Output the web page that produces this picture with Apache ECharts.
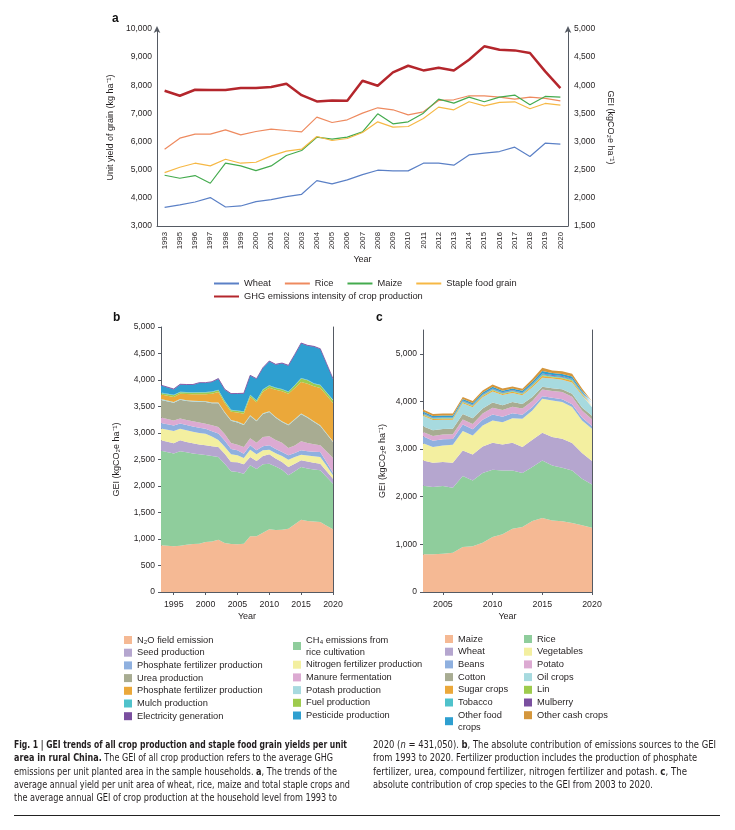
<!DOCTYPE html>
<html><head><meta charset="utf-8">
<script src="https://cdn.jsdelivr.net/npm/echarts@6/dist/echarts.min.js"></script>
<style>
html,body{margin:0;padding:0;background:#fff;}
#chart{position:absolute;left:0;top:0;width:735px;height:830px;}
.cap{position:absolute;white-space:nowrap;font-family:'Liberation Sans Narrow','DejaVu Sans Condensed','Liberation Sans',sans-serif;font-size:10.5px;line-height:12px;color:#231f20;transform-origin:0 50%;}
.cap b{font-weight:bold;}
#rule{position:absolute;left:14px;top:815px;width:706px;height:1px;background:#222;}
</style></head>
<body>
<div id="chart"></div>
<div id="caption"></div>
<div id="rule"></div>
<script>
// ---------- Panel a ----------
const yearsA = ['1993','1995','1996','1997','1998','1999','2000','2001','2002','2003','2004','2005','2006','2007','2008','2009','2010','2011','2012','2013','2014','2015','2016','2017','2018','2019','2020'];
const wheatYield = [3665,3748,3854,4009,3676,3712,3866,3937,4044,4127,4614,4495,4637,4827,4982,4958,4958,5231,5231,5160,5527,5587,5646,5800,5468,5943,5907];
const riceYield = [5729,6121,6263,6263,6417,6239,6358,6441,6393,6346,6868,6678,6773,7010,7200,7129,6951,7058,7461,7485,7627,7627,7580,7509,7580,7532,7449];
const maizeYield = [4804,4697,4792,4519,5231,5136,4970,5136,5504,5682,6156,6085,6156,6346,6987,6631,6702,7010,7509,7366,7580,7414,7580,7651,7307,7604,7580];
const stapleYield = [4898,5088,5231,5136,5373,5231,5266,5492,5658,5729,6180,6038,6109,6322,6702,6512,6536,6820,7224,7129,7414,7271,7390,7414,7165,7354,7295];
const ghgIntensity = [3903,3814,3920,3915,3915,3950,3950,3968,4027,3825,3713,3730,3725,4081,3992,4229,4347,4264,4312,4264,4454,4692,4632,4620,4573,4247,3950];

// ---------- Panel b (data years 1993-2020, no 1994 survey) ----------
const axisYearsB = ['1993','1994','1995','1996','1997','1998','1999','2000','2001','2002','2003','2004','2005','2006','2007','2008','2009','2010','2011','2012','2013','2014','2015','2016','2017','2018','2019','2020'];
const yearsB = ['1993','1995','1996','1997','1998','1999','2000','2001','2002','2003','2004','2005','2006','2007','2008','2009','2010','2011','2012','2013','2014','2015','2016','2017','2018','2019','2020'];
const bN2O = [880,862,875,890,905,910,943,955,987,925,905,900,912,1050,1050,1120,1182,1170,1175,1195,1280,1365,1340,1330,1320,1250,1182];
const bCH4 = [1785,1753,1782,1745,1710,1690,1642,1610,1560,1496,1375,1364,1321,1340,1271,1289,1239,1200,1133,1006,1000,993,990,980,976,920,862];
const bSeed = [197,190,205,195,190,185,182,185,189,189,173,183,176,157,151,157,176,150,145,157,140,126,130,130,125,110,94];
const bNitrogen = [223,235,218,220,220,215,220,185,134,130,147,133,119,139,125,107,89,100,113,139,125,107,115,120,126,100,63];
const bPhosphate = [105,100,100,100,100,100,91,100,120,120,100,93,82,81,76,75,81,80,76,82,80,82,80,88,95,70,51];
const bManure = [102,95,95,95,95,100,98,110,123,120,110,107,126,133,145,177,170,170,176,140,140,170,155,142,125,200,276];
const bUrea = [333,335,353,360,375,390,409,415,447,400,420,420,414,420,402,435,459,419,389,426,485,509,479,417,363,330,302];
const bPotash = [15,15,15,15,15,15,15,15,15,15,15,15,15,15,15,15,15,15,15,15,15,15,15,15,15,15,15];
const bPhosphate2 = [85,95,99,115,120,125,130,165,200,171,155,170,200,345,345,405,444,511,568,580,585,595,626,658,705,715,721];
const bFuel = [27,32,28,30,30,32,35,35,30,34,28,30,35,31,30,35,35,35,30,34,45,68,64,51,49,50,50];
const bMulch = [10,10,10,10,10,10,10,10,10,10,10,10,10,10,10,10,10,10,10,10,10,10,10,10,10,10,10];
const bPesticide = [133,100,132,132,137,170,167,175,204,207,297,312,332,359,397,400,450,428,482,485,570,650,642,686,674,530,391];
const bElectricity = [8,8,8,8,8,8,8,8,8,8,8,8,8,8,8,8,8,8,8,8,8,8,8,8,8,8,8];

// ---------- Panel c (2003-2020) ----------
const yearsC = ['2003','2004','2005','2006','2007','2008','2009','2010','2011','2012','2013','2014','2015','2016','2017','2018','2019','2020'];
const cMaize = [790,790,804,825,944,958,1035,1154,1210,1329,1364,1490,1552,1503,1483,1448,1399,1350];
const cRice = [1440,1413,1420,1364,1490,1385,1462,1412,1342,1223,1133,1132,1210,1154,1125,1104,979,909];
const cWheat = [530,510,503,524,538,545,559,567,546,581,545,574,581,595,609,574,538,489];
const cVegetables = [360,329,350,378,406,399,441,468,468,517,594,615,713,769,769,755,685,679];
const cBeans = [150,135,130,120,140,130,120,125,115,100,85,70,55,55,60,60,60,60];
const cPotato = [90,100,100,100,105,110,130,140,140,140,130,130,140,145,150,160,150,140];
const cCotton = [120,120,115,115,115,120,105,110,100,100,95,80,56,56,60,60,60,75];
const cOil = [220,213,193,189,222,233,238,234,214,190,184,209,193,203,199,239,260,178];
const cSugar = [22,21,22,22,23,22,24,25,23,23,23,29,35,29,31,31,24,21];
const cLin = [9,9,9,9,9,9,10,10,9,9,10,12,14,12,12,12,10,9];
const cTobacco = [16,15,16,16,16,16,17,17,16,16,17,20,25,20,22,22,17,15];
const cMulberry = [9,9,9,9,10,9,10,10,10,10,10,12,14,12,13,13,10,9];
const cOtherFood = [33,31,32,32,34,32,35,36,34,34,34,42,51,42,45,45,35,31];
const cOtherCash = [43,40,42,42,43,42,44,47,43,43,44,55,66,55,57,57,44,40];

const ticksB = ['1995','2000','2005','2010','2015','2020'];
const ticksC = ['2005','2010','2015','2020'];
const ticksCY = [0,1000,2000,3000,4000,5000];

const FONT = "'Liberation Sans', Arial, sans-serif";
const TXT = '#231f20';
const AX = '#555a63';
const comma = v => String(v).replace(/\B(?=(\d{3})+(?!\d))/g, ',');

const bLayers = [
  ['N\u2082O field emission', bN2O, '#f5b994'],
  ['CH\u2084 emissions from\nrice cultivation', bCH4, '#8fcd9c'],
  ['Seed production', bSeed, '#b5a6cf'],
  ['Nitrogen fertilizer production', bNitrogen, '#f3efa0'],
  ['Phosphate fertilizer production', bPhosphate, '#8fb0df'],
  ['Manure fermentation', bManure, '#dcaad2'],
  ['Urea production', bUrea, '#a8ac92'],
  ['Potash production', bPotash, '#a7dadf'],
  ['Phosphate fertilizer production ', bPhosphate2, '#eba83a'],
  ['Fuel production', bFuel, '#9ecb4d'],
  ['Mulch production', bMulch, '#4fc2cb'],
  ['Pesticide production', bPesticide, '#2e9fd0'],
  ['Electricity generation', bElectricity, '#7a4f9f']
];
const cLayers = [
  ['Maize ', cMaize, '#f5b994'],
  ['Rice ', cRice, '#8fcd9c'],
  ['Wheat ', cWheat, '#b5a6cf'],
  ['Vegetables', cVegetables, '#f3efa0'],
  ['Beans', cBeans, '#8fb0df'],
  ['Potato', cPotato, '#dcaad2'],
  ['Cotton', cCotton, '#a8ac92'],
  ['Oil crops', cOil, '#a7dadf'],
  ['Sugar crops', cSugar, '#eba83a'],
  ['Lin', cLin, '#9ecb4d'],
  ['Tobacco', cTobacco, '#4fc2cb'],
  ['Mulberry', cMulberry, '#7a4f9f'],
  ['Other food\ncrops', cOtherFood, '#2e9fd0'],
  ['Other cash crops', cOtherCash, '#d4963c']
];

const series = [];
const lineA = (name, data, color, yIdx, width, z) => ({
  type:'line', name, data, xAxisIndex:0, yAxisIndex:yIdx, symbol:'none',
  lineStyle:{color, width}, itemStyle:{color}, z, animation:false
});
series.push(lineA('Wheat', wheatYield, '#5b80c6', 0, 1.2, 3));
series.push(lineA('Rice', riceYield, '#ee8a5f', 0, 1.2, 3));
series.push(lineA('Maize', maizeYield, '#44ab4e', 0, 1.2, 3));
series.push(lineA('Staple food grain', stapleYield, '#f6b845', 0, 1.2, 3));
series.push(lineA('GHG emissions intensity of crop production', ghgIntensity, '#b4262c', 1, 2.5, 4));

bLayers.forEach(([name, arr, color], k) => {
  const last = k === bLayers.length - 1;
  series.push({
    type:'line', name, stack:'b', xAxisIndex:1, yAxisIndex:2, symbol:'none', animation:false,
    data: yearsB.map((y,i) => [y, arr[i]]),
    lineStyle:{width: last ? 0.8 : 0, color}, areaStyle:{color, opacity:1}, itemStyle:{color}
  });
});
cLayers.forEach(([name, arr, color]) => {
  series.push({
    type:'line', name, stack:'c', xAxisIndex:2, yAxisIndex:4, symbol:'none', animation:false,
    data: arr,
    lineStyle:{width:0, color}, areaStyle:{color, opacity:1}, itemStyle:{color}
  });
});

const colorOf = {};
bLayers.concat(cLayers).forEach(([n,,c]) => colorOf[n] = c);
const sqLegend = (names, left, top) => ({
  orient:'vertical', left, top, itemWidth:8, itemHeight:8, itemGap:0.7,
  icon:'rect', selectedMode:false,
  textStyle:{fontFamily:FONT, fontSize:9.3, color:TXT, lineHeight:12},
  data: names.map(n => ({name:n, icon:'rect', itemStyle:{color:colorOf[n]}}))
});

const axisTxt = {fontFamily:FONT, color:TXT, fontSize:8.5};
const nameTxt = Object.assign({}, axisTxt, {fontSize:9});
const option = {
  animation:false,
  textStyle:{fontFamily:FONT},
  grid:[
    {left:157, top:29, width:411, height:197},
    {left:161, top:327, width:172, height:265},
    {left:423, top:330, width:169, height:262}
  ],
  xAxis:[
    {type:'category', gridIndex:0, data:yearsA, boundaryGap:true,
     axisLine:{lineStyle:{color:AX, width:1}}, axisTick:{show:false},
     axisLabel:Object.assign({}, axisTxt, {rotate:90, fontSize:7.8, margin:6, interval:0}),
     name:'Year', nameLocation:'middle', nameGap:29, nameTextStyle:nameTxt },
    {type:'category', gridIndex:1, data:axisYearsB, boundaryGap:false,
     axisLine:{lineStyle:{color:AX}}, splitLine:{show:false},
     axisTick:{show:true, length:3, interval:(i,v) => ticksB.includes(v), lineStyle:{color:AX}},
     axisLabel:Object.assign({}, axisTxt, {interval:(i,v) => ticksB.includes(v), margin:8, fontSize:8.8}),
     name:'Year', nameLocation:'middle', nameGap:20, nameTextStyle:nameTxt},
    {type:'category', gridIndex:2, data:yearsC, boundaryGap:false,
     axisLine:{lineStyle:{color:AX}}, splitLine:{show:false},
     axisTick:{show:true, length:3, interval:(i,v) => ticksC.includes(v), lineStyle:{color:AX}},
     axisLabel:Object.assign({}, axisTxt, {interval:(i,v) => ticksC.includes(v), margin:8, fontSize:8.8}),
     name:'Year', nameLocation:'middle', nameGap:20, nameTextStyle:nameTxt}
  ],
  yAxis:[
    {type:'value', gridIndex:0, position:'left', min:3000, max:10000, interval:1000,
     axisLine:{show:true, lineStyle:{color:AX}, symbol:['none','arrow'], symbolSize:[5,7], symbolOffset:[0,3]},
     axisTick:{show:false}, splitLine:{show:false},
     axisLabel:Object.assign({}, axisTxt, {formatter:comma, margin:5}),
     name:'Unit yield of grain (kg ha\u207B\u00B9)', nameLocation:'middle', nameGap:36, nameTextStyle:nameTxt},
    {type:'value', gridIndex:0, position:'right', min:1500, max:5000, interval:500,
     axisLine:{show:true, lineStyle:{color:AX}, symbol:['none','arrow'], symbolSize:[5,7], symbolOffset:[0,3]},
     axisTick:{show:false}, splitLine:{show:false},
     axisLabel:Object.assign({}, axisTxt, {formatter:comma, margin:6}),
     name:'GEI (kgCO\u2082e ha\u207B\u00B9)', nameLocation:'middle', nameRotate:-90, nameGap:36, nameTextStyle:nameTxt},
    {type:'value', gridIndex:1, position:'left', min:0, max:5000, interval:500,
     axisLine:{show:true, lineStyle:{color:AX}}, splitLine:{show:false},
     axisTick:{show:true, length:3, lineStyle:{color:AX}},
     axisLabel:Object.assign({}, axisTxt, {formatter:comma, margin:6}),
     name:'GEI (kgCO\u2082e ha\u207B\u00B9)', nameLocation:'middle', nameGap:40, nameTextStyle:nameTxt},
    {type:'value', gridIndex:1, position:'right', min:0, max:5000,
     axisLine:{show:true, lineStyle:{color:AX}}, axisTick:{show:false}, axisLabel:{show:false}, splitLine:{show:false}},
    {type:'value', gridIndex:2, position:'left', min:0, max:5500,
     axisLine:{show:true, lineStyle:{color:AX}}, splitLine:{show:false},
     axisTick:{show:true, length:3, customValues:ticksCY, lineStyle:{color:AX}},
     axisLabel:Object.assign({}, axisTxt, {formatter:comma, margin:6, customValues:ticksCY}),
     name:'GEI (kgCO\u2082e ha\u207B\u00B9)', nameLocation:'middle', nameGap:36, nameTextStyle:nameTxt},
    {type:'value', gridIndex:2, position:'right', min:0, max:5500,
     axisLine:{show:true, lineStyle:{color:AX}}, axisTick:{show:false}, axisLabel:{show:false}, splitLine:{show:false}}
  ],
  legend:[
    {left:208, top:274, itemWidth:25, itemHeight:10, itemGap:13, selectedMode:false,
     itemStyle:{opacity:0},
     textStyle:{fontFamily:FONT, fontSize:9.3, color:TXT},
     data:['Wheat','Rice','Maize','Staple food grain']},
    {left:208, top:287, itemWidth:25, itemHeight:10, selectedMode:false,
     itemStyle:{opacity:0},
     textStyle:{fontFamily:FONT, fontSize:9.3, color:TXT},
     data:['GHG emissions intensity of crop production']},
    sqLegend(['N\u2082O field emission','Seed production','Phosphate fertilizer production','Urea production','Phosphate fertilizer production ','Mulch production','Electricity generation'], 119, 629),
    sqLegend(['CH\u2084 emissions from\nrice cultivation','Nitrogen fertilizer production','Manure fermentation','Potash production','Fuel production','Pesticide production'], 288, 629),
    sqLegend(['Maize ','Wheat ','Beans','Cotton','Sugar crops','Tobacco','Other food\ncrops'], 440, 628),
    sqLegend(['Rice ','Vegetables','Potato','Oil crops','Lin','Mulberry','Other cash crops'], 519, 628)
  ],
  graphic:[
    {type:'text', left:112, top:13, style:{text:'a', font:"bold 12px "+FONT, fill:'#111'}},
    {type:'text', left:113, top:312, style:{text:'b', font:"bold 12px "+FONT, fill:'#111'}},
    {type:'text', left:376, top:312, style:{text:'c', font:"bold 12px "+FONT, fill:'#111'}}
  ],
  series
};
const chart = echarts.init(document.getElementById('chart'), null, {renderer:'canvas'});
chart.setOption(option);

// ---------- Caption ----------
const capLines = [
  [14, 744, 333, '<b>Fig. 1 | GEI trends of all crop production and staple food grain yields per unit</b>'],
  [14, 757, 319, '<b>area in rural China.</b> The GEI of all crop production refers to the average GHG'],
  [14, 771, 323, 'emissions per unit planted area in the sample households. <b>a</b>, The trends of the'],
  [14, 784, 336, 'average annual yield per unit area of wheat, rice, maize and total staple crops and'],
  [14, 797, 323, 'the average annual GEI of crop production at the household level from 1993 to'],
  [373, 744, 343, '2020 (<i>n</i> = 431,050). <b>b</b>, The absolute contribution of emissions sources to the GEI'],
  [373, 757, 324, 'from 1993 to 2020. Fertilizer production includes the production of phosphate'],
  [373, 771, 314, 'fertilizer, urea, compound fertilizer, nitrogen fertilizer and potash. <b>c</b>, The'],
  [373, 784, 280, 'absolute contribution of crop species to the GEI from 2003 to 2020.']
];
const cap = document.getElementById('caption');
capLines.forEach(([x, y, w, html]) => {
  const d = document.createElement('div');
  d.className = 'cap';
  d.style.left = x + 'px';
  d.style.top = (y - 6) + 'px';
  d.innerHTML = html;
  cap.appendChild(d);
  const actual = d.getBoundingClientRect().width;
  if (actual > 0) d.style.transform = 'scaleX(' + (w / actual) + ')';
});
</script>
</body></html>
